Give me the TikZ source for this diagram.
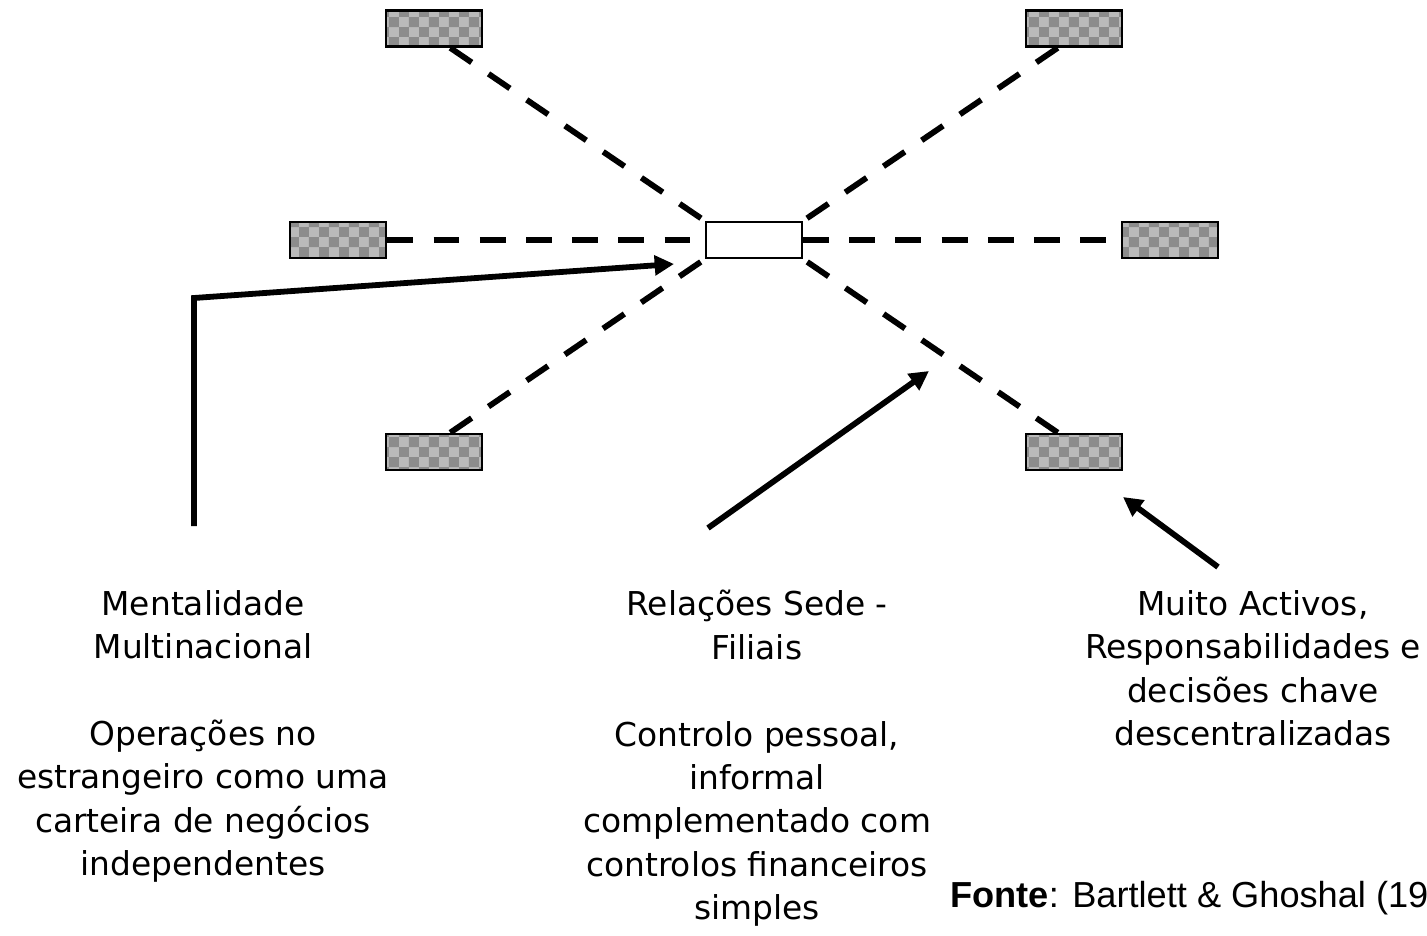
\documentclass[tikz,border=0pt]{standalone}
\usepackage{fontspec}
\setmainfont{DejaVu Sans}
\newfontfamily\arialfont{Liberation Sans}
\usetikzlibrary{arrows.meta,patterns,calc}
\begin{document}
\begin{tikzpicture}[x=0.02cm,y=-0.02cm,
  gbox/.style={draw, line width=1.6pt, minimum width=1.92cm, minimum height=0.72cm, inner sep=0pt,
    preaction={fill=black!27}, pattern=checkerboard, pattern color=black!45},
  cbox/.style={draw, line width=1.2pt, fill=white, minimum width=1.92cm, minimum height=0.72cm, inner sep=0pt},
  dashlink/.style={line width=3.3pt, dash pattern=on 14.7pt off 11.6pt},
  solidarrow/.style={line width=3.3pt, -{Triangle[length=11pt,width=11pt]}},
  label/.style={font=\fontsize{18.7pt}{24.7pt}\selectfont, align=center, inner sep=0pt, anchor=north},
  source/.style={font=\arialfont\fontsize{20.6pt}{25pt}\selectfont, inner sep=0pt, anchor=base west}]
\useasboundingbox (0,0) rectangle (1427,936);
\clip (0,0) rectangle (1427,936);

% boxes
\node[cbox] (c)  at (754,240) {};
\node[gbox] (tl) at (434,28.5) {};
\node[gbox] (tr) at (1074,28.5) {};
\node[gbox] (l)  at (338,240) {};
\node[gbox] (r)  at (1170,240) {};
\node[gbox] (bl) at (434,452) {};
\node[gbox] (br) at (1074,452) {};

% dashed links
\draw[dashlink] ($(tl.south)!0.33!(tl.south east)$) -- (c.north west);
\draw[dashlink] ($(tr.south)!0.33!(tr.south west)$) -- (c.north east);
\draw[dashlink] (l.east) -- (c.west);
\draw[dashlink] (c.east) -- (r.west);
\draw[dashlink] ($(bl.north)!0.33!(bl.north east)$) -- (c.south west);
\draw[dashlink] ($(br.north)!0.33!(br.north west)$) -- (c.south east);

% arrows
\coordinate (a1s) at (194,526);
\coordinate (a1c) at (194,298);
\coordinate (a1t) at (674,264);
\coordinate (a2s) at (708,528);
\coordinate (a2t) at (929,371);
\coordinate (a3s) at (1218,567);
\coordinate (a3t) at (1123,497);
\draw[solidarrow] (a1s) -- (a1c) -- (a1t);
\draw[solidarrow] (a2s) -- (a2t);
\draw[solidarrow] (a3s) -- (a3t);

% texts
\node[label] (t1) at (203,590) {Mentalidade\\Multinacional\\[24.7pt]Operações no\\estrangeiro como uma\\carteira de negócios\\independentes};
\node[label] (t2) at (757,590) {Relações Sede -\\Filiais\\[24.7pt]Controlo pessoal,\\informal\\complementado com\\controlos financeiros\\simples};
\node[label] (t3) at (1253,590) {Muito Activos,\\Responsabilidades e\\decisões chave\\descentralizadas};
\node[source] (src) at (950,907) {\textbf{Fonte}: Bartlett \& Ghoshal (19};
\end{tikzpicture}
\end{document}
